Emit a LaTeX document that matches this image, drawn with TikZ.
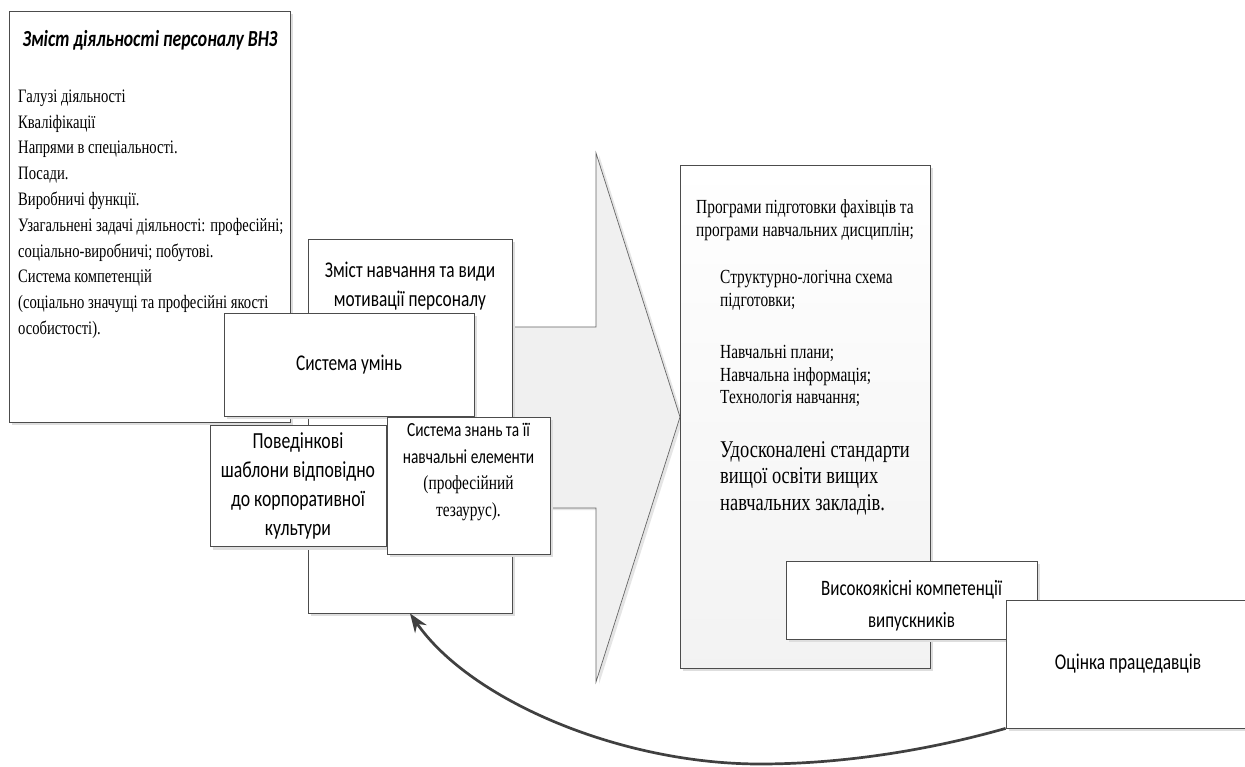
\documentclass[tikz,border=0pt]{standalone}
\usepackage{fontspec}
\setmainfont{Liberation Serif}[FakeStretch=0.77]
\newfontfamily\calib{Carlito}[FakeStretch=0.77]
\usetikzlibrary{shapes.geometric, arrows.meta, shadows}

\tikzstyle{card} = [rectangle, draw=black!70, line width=0.8pt, fill=white, inner sep=0pt, drop shadow={shadow xshift=3pt, shadow yshift=-3pt, fill=black!13, opacity=1}]
\tikzstyle{cardtext} = [align=center, inner sep=0pt, font=\calib\fontsize{22.5}{29}\selectfont]
\tikzstyle{listtext} = [align=left, anchor=north west, inner sep=0pt, font=\fontsize{19}{25.8}\selectfont]
\tikzstyle{bigarrow} = [draw=black!60, line width=0.7pt, fill=black!6, drop shadow={shadow xshift=3pt, shadow yshift=-2pt, fill=black!10, opacity=1}]
\tikzstyle{feedback} = [line width=2.7pt, draw=black!75, -{Stealth[length=19pt,width=14pt]}]

\begin{document}
\begin{tikzpicture}[x=1pt, y=-1pt]

\fill[white] (0,0) rectangle (1245,767);
\useasboundingbox (0,0) rectangle (1245,767);

%% NODES

\node (vnz) [card, minimum width=281pt, minimum height=411pt] at (149.5,216.5) {};
\node (vnztitle) [inner sep=0pt, font=\calib\bfseries\itshape\fontsize{23}{28}\selectfont] at (150,40) {Зміст діяльності персоналу ВНЗ};
\node (vnzlist) [listtext] at (18,89.5) {Галузі діяльності\\Кваліфікації\\Напрями в спеціальності.\\Посади.\\Виробничі функції.\\Узагальнені задачі діяльності: професійні;\\соціально-виробничі; побутові.\\Система компетенцій\\(соціально значущі та професійні якості\\особистості).};

\draw [bigarrow] (420,327) -- (596,327) -- (596,153) -- (680,417) -- (596,682) -- (596,508) -- (420,508) -- cycle;

\node (mot) [card, minimum width=204pt, minimum height=374pt] at (410,426) {};
\node (mottext) [cardtext] at (410,286) {Зміст навчання та види\\мотивації персоналу};

\node (umin) [card, cardtext, minimum width=250pt, minimum height=103pt] at (349,364.5) {Система умінь};

\node (shabl) [card, cardtext, minimum width=176pt, minimum height=121pt, font=\calib\fontsize{23}{29}\selectfont] at (298,486) {Поведінкові\\шаблони відповідно\\до корпоративної\\культури};

\node (znan) [card, minimum width=163pt, minimum height=137pt] at (468.5,485.5) {};
\node (znantext) [align=center, inner sep=0pt, font=\fontsize{20}{26.5}\selectfont] at (468.5,472) {{\calib Система знань та її}\\{\calib навчальні елементи}\\(професійний\\тезаурус).};

\node (prog) [card, minimum width=250pt, minimum height=503pt, top color=white, bottom color=black!5] at (805,416.5) {};
\node (progA) [listtext, font=\fontsize{20}{22.5}\selectfont] at (696,199.5) {Програми підготовки фахівців та\\програми навчальних дисциплін;};
\node (progB) [listtext, font=\fontsize{20}{22.5}\selectfont] at (720,270.5) {Структурно-логічна схема\\підготовки;};
\node (progC) [listtext, font=\fontsize{20}{22.5}\selectfont] at (720,345.5) {Навчальні плани;\\Навчальна інформація;\\Технологія навчання;};
\node (progD) [listtext, font=\fontsize{24}{26.5}\selectfont] at (720,441) {Удосконалені стандарти\\вищої освіти вищих\\навчальних закладів.};

\node (vysok) [card, minimum width=251pt, minimum height=78pt] at (911.5,600) {};
\node (vysoktext) [cardtext, font=\calib\fontsize{22}{32}\selectfont] at (911.5,606) {Високоякісні компетенції\\випускників};

\node (ocinka) [card, cardtext, minimum width=244pt, minimum height=128pt] at (1128,664) {Оцінка працедавців};

%% ARROWS

\coordinate (dip) at (760,764);
\draw [feedback] (ocinka.south west) .. controls (926,751) and (840,764) .. (dip) .. controls (620,764) and (470,700) .. (mot.south);

\end{tikzpicture}
\end{document}
